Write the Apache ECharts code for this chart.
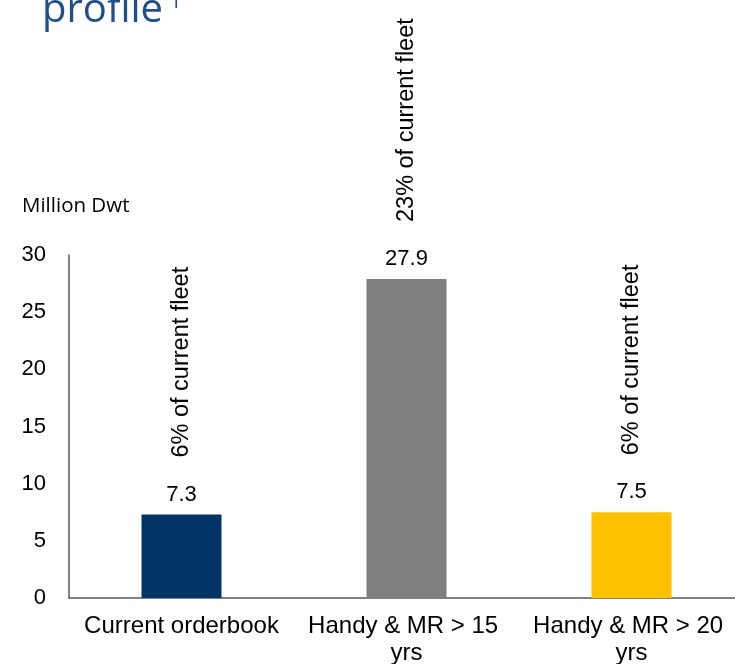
<!DOCTYPE html>
<html>
<head>
<meta charset="utf-8">
<script src="https://cdn.jsdelivr.net/npm/echarts@6/dist/echarts.min.js"></script>
<style>
  html, body { margin: 0; padding: 0; background: #fff; overflow: hidden; }
  #chart { width: 735px; height: 664px; }
</style>
</head>
<body>
<div id="chart"></div>
<script>
// Tanker supply picture: orderbook vs. ageing Handy & MR fleet
var categories = ['Current orderbook', 'Handy & MR > 15 yrs', 'Handy & MR > 20 yrs'];
var dwtMillion = [7.3, 27.9, 7.5];
var fleetShare = ['6%', '23%', '6%'];
var barColors = ['#023466', '#7F7F7F', '#FFC000'];
var yTicks = [0, 5, 10, 15, 20, 25, 30];

var chart = echarts.init(document.getElementById('chart'), null, { renderer: 'canvas' });

var labelFont = 'Liberation Sans, Arial, sans-serif';

chart.setOption({
  animation: false,
  graphic: [
    {
      type: 'text',
      left: 42,
      top: -9,
      style: {
        text: 'profile',
        font: '40px "Open Sans", sans-serif',
        fill: '#1F4E8A'
      }
    },
    {
      type: 'text',
      left: 170,
      top: -8,
      style: {
        text: '1',
        font: '20px "Open Sans", sans-serif',
        fill: '#1F4E8A'
      }
    },
    {
      type: 'text',
      left: 22,
      top: 196,
      style: {
        text: 'Million Dwt',
        font: '20.5px "Open Sans", sans-serif',
        fill: '#000'
      }
    }
  ],
  grid: {
    left: 69, top: 255, bottom: 66, width: 675,
    containLabel: false,
    outerBoundsMode: 'none'
  },
  xAxis: {
    type: 'category',
    data: categories,
    axisLine: { show: true, lineStyle: { color: '#595959', width: 1.5 } },
    axisTick: { show: false },
    axisLabel: {
      interval: 0,
      hideOverlap: false,
      margin: 15,
      color: '#000',
      fontFamily: labelFont,
      fontSize: 24,
      lineHeight: 27,
      width: 222,
      overflow: 'break'
    }
  },
  yAxis: {
    type: 'value',
    min: yTicks[0],
    max: yTicks[yTicks.length - 1],
    interval: yTicks[1] - yTicks[0],
    axisLine: { show: true, lineStyle: { color: '#595959', width: 1.5 } },
    axisTick: { show: false },
    splitLine: { show: false },
    axisLabel: {
      margin: 23,
      color: '#000',
      fontFamily: labelFont,
      fontSize: 22
    }
  },
  series: [
    {
      type: 'bar',
      barWidth: 80,
      data: dwtMillion.map(function (v, i) {
        return { value: v, itemStyle: { color: barColors[i] } };
      }),
      label: {
        show: true,
        position: 'top',
        distance: 9,
        color: '#000',
        fontFamily: labelFont,
        fontSize: 22,
        formatter: function (p) { return p.value.toFixed(1); }
      }
    },
    {
      // share-of-fleet annotations, written vertically above each value
      type: 'bar',
      barWidth: 80,
      barGap: '-100%',
      silent: true,
      itemStyle: { color: 'rgba(0,0,0,0)' },
      data: dwtMillion,
      label: {
        show: true,
        position: 'top',
        rotate: 90,
        align: 'left',
        verticalAlign: 'middle',
        distance: 57,
        color: '#000',
        fontFamily: labelFont,
        fontSize: 23.5,
        formatter: function (p) { return fleetShare[p.dataIndex] + ' of current fleet'; }
      }
    }
  ]
});
</script>
</body>
</html>
